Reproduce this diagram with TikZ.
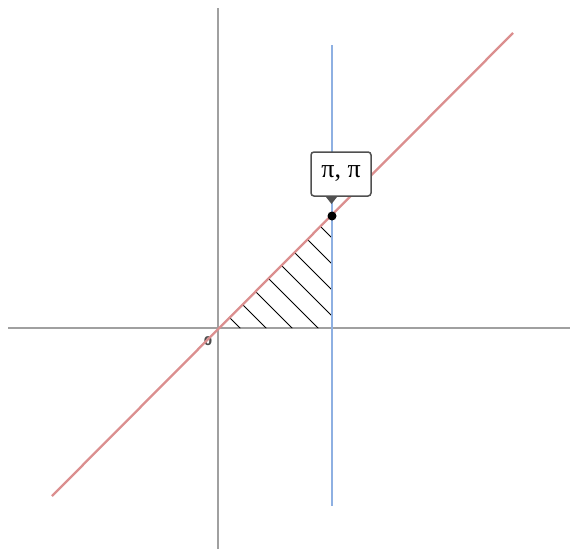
\documentclass[tikz,border=0pt]{standalone}
\usepackage{fontspec}
\setsansfont{DejaVu Sans}
\newfontfamily\labelserif{Liberation Serif}
\definecolor{axisgray}{HTML}{A0A0A0}
\definecolor{redline}{HTML}{DB8F8F}
\definecolor{blueline}{HTML}{8EB0E2}
\definecolor{boxgray}{HTML}{505050}
\begin{document}
\begin{tikzpicture}[x=1pt,y=-1pt,
  axis/.style={draw=axisgray,line width=1.6pt},
  graphred/.style={draw=redline,line width=2.3pt},
  graphblue/.style={draw=blueline,line width=2.3pt},
  hatchline/.style={draw=black,line width=0.9pt},
  labelbox/.style={draw=boxgray,line width=1.5pt,fill=white,rounded corners=3pt,
     minimum width=60pt,minimum height=44pt,inner sep=0pt}]
\useasboundingbox (0,0) rectangle (570,549);
% axes
\coordinate (xl) at (8,328);
\coordinate (xr) at (570,328);
\coordinate (yt) at (218,8);
\coordinate (yb) at (218,549);
\draw[axis] (xl) -- (xr);
\draw[axis] (yt) -- (yb);
\node[font=\sffamily\bfseries\fontsize{12}{13}\selectfont,text=black!70] (zero) at (208,341) {0};
% hatching
\coordinate (O) at (218,328);
\coordinate (A) at (332,328);
\coordinate (P) at (332,216);
\begin{scope}
\clip (O) -- (A) -- (P) -- cycle;
\foreach \c in {88,62,36,10,-16,-42,-68,-94}{
  \draw[hatchline] (150,150+\c) -- (420,420+\c);
}
\end{scope}
% graphs
\coordinate (rb) at (52,496);
\coordinate (rt) at (513,33);
\coordinate (bt) at (332,45);
\coordinate (bb) at (332,506);
\draw[graphblue] (bt) -- (bb);
\draw[graphred] (rb) -- (rt);
% point and label
\fill[black] (P) circle (4.5pt);
\node[labelbox] (lbl) at (341,174) {\labelserif\fontsize{26}{28}\selectfont π, π};
\fill[boxgray] (326,197) -- (337,197) -- (331.5,204) -- cycle;
\end{tikzpicture}
\end{document}
